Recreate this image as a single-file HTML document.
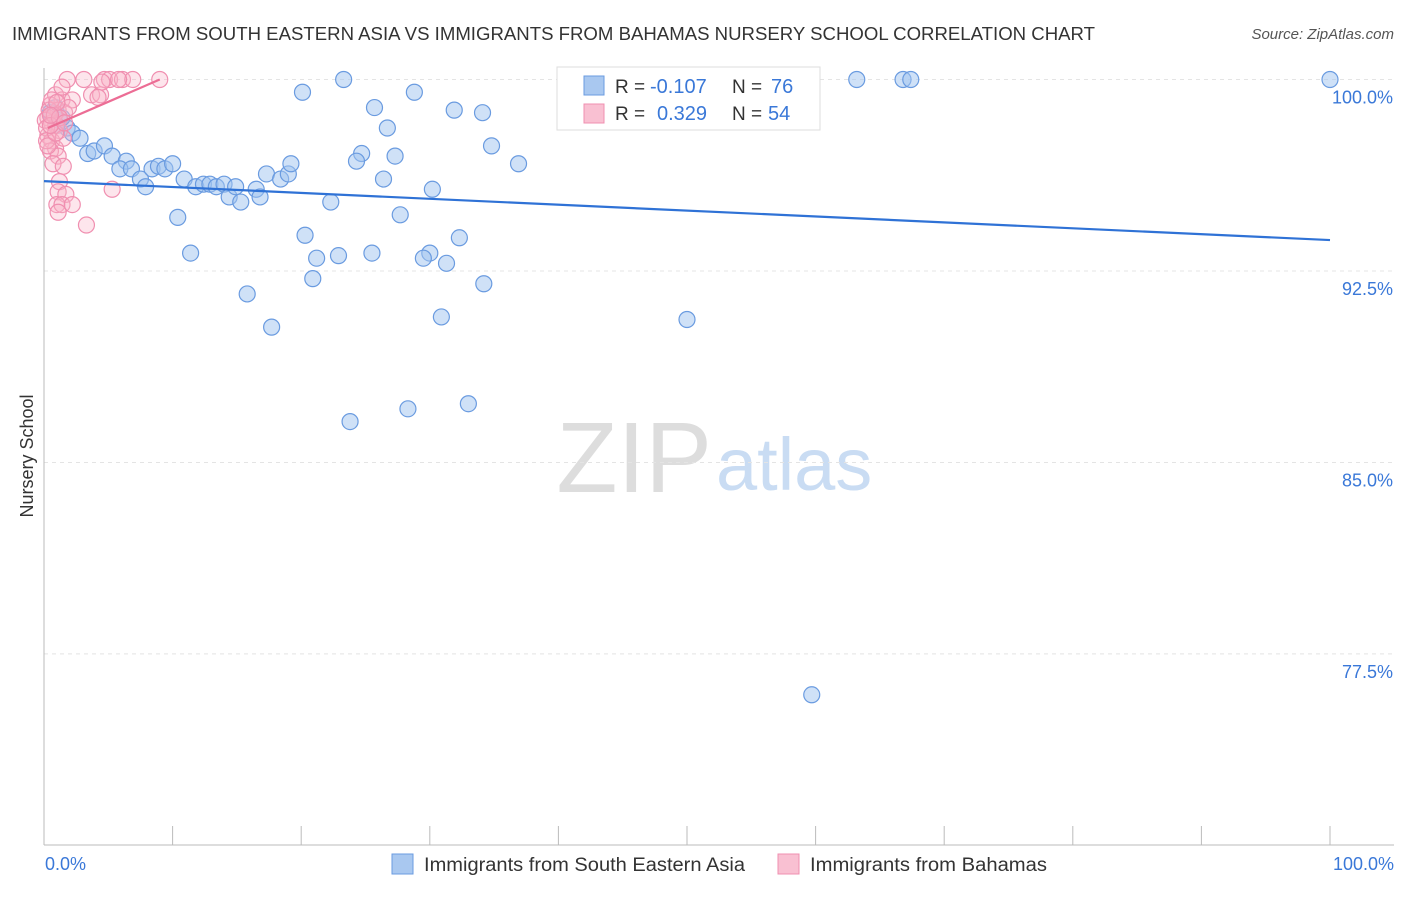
<!DOCTYPE html>
<html><head><meta charset="utf-8"><style>
body{margin:0;background:#fff;font-family:"Liberation Sans",sans-serif}
svg text{font-family:"Liberation Sans",sans-serif}
</style></head><body>
<svg id="c" width="1406" height="892" viewBox="0 0 1406 892">
<text x="12" y="40" font-size="18" fill="#333" textLength="1083" lengthAdjust="spacingAndGlyphs">IMMIGRANTS FROM SOUTH EASTERN ASIA VS IMMIGRANTS FROM BAHAMAS NURSERY SCHOOL CORRELATION CHART</text>
<text x="1394" y="39" font-size="15" fill="#555" text-anchor="end" font-style="italic">Source: ZipAtlas.com</text>
<text x="712" y="492" font-size="100" fill="#ddd" text-anchor="end" font-family="Liberation Serif">ZIP</text>
<text x="716" y="490" font-size="74" fill="#c9dcf3">atlas</text>
<text transform="translate(33,456) rotate(-90)" font-size="18" fill="#333" text-anchor="middle">Nursery School</text>
<g id="grid"></g><g id="marks"></g>
<g>
<rect x="557" y="67" width="263" height="63" fill="#fff" stroke="#ddd"/>
<rect x="584" y="76" width="20" height="19" fill="#a9c8f0" stroke="#6a9be0"/>
<rect x="584" y="104" width="20" height="19" fill="#f9c0d2" stroke="#f08fb0"/>
<text x="615" y="93" font-size="19" fill="#333">R =</text>
<text x="650" y="93" font-size="20" fill="#3a78d8">-0.107</text>
<text x="732" y="93" font-size="19" fill="#333">N =</text>
<text x="771" y="93" font-size="20" fill="#3a78d8">76</text>
<text x="615" y="120" font-size="19" fill="#333">R =</text>
<text x="657" y="120" font-size="20" fill="#3a78d8">0.329</text>
<text x="732" y="120" font-size="19" fill="#333">N =</text>
<text x="768" y="120" font-size="20" fill="#3a78d8">54</text>
</g>
<g>
<rect x="392" y="854" width="21" height="20" fill="#a9c8f0" stroke="#6a9be0"/>
<text x="424" y="871" font-size="19" fill="#333" textLength="321" lengthAdjust="spacingAndGlyphs">Immigrants from South Eastern Asia</text>
<rect x="778" y="854" width="21" height="20" fill="#f9c0d2" stroke="#f08fb0"/>
<text x="810" y="871" font-size="19" fill="#333" textLength="237" lengthAdjust="spacingAndGlyphs">Immigrants from Bahamas</text>
</g>
<text x="45" y="870" font-size="18" fill="#3a78d8">0.0%</text>
<text x="1394" y="870" font-size="18" fill="#3a78d8" text-anchor="end">100.0%</text>
</svg>
<script>
const blueX=[23.3,20.1,25.7,28.8,31.9,34.1,26.7,34.8,36.9,27.3,24.7,24.3,26.4,30.2,22.3,27.7,20.3,32.3,30.0,25.5,22.9,21.2,29.5,31.3,20.9,34.2,15.8,17.7,30.9,50.0,28.3,33.0,23.8,59.7,63.2,66.8,67.4,100,43.0,0.9,1.2,1.8,2.2,2.8,3.4,3.9,4.7,5.3,6.4,5.9,6.8,7.5,7.9,8.4,8.9,9.4,10.0,10.9,11.8,12.4,12.9,13.4,14.0,14.4,14.9,15.3,16.5,16.8,17.3,18.4,19.0,19.2,10.4,11.4,1.4,0.5,1.0];
const blueY=[100,99.5,98.9,99.5,98.8,98.7,98.1,97.4,96.7,97.0,97.1,96.8,96.1,95.7,95.2,94.7,93.9,93.8,93.2,93.2,93.1,93.0,93.0,92.8,92.2,92.0,91.6,90.3,90.7,90.6,87.1,87.3,86.6,75.9,100,100,100,100,100,98.9,98.4,98.1,97.9,97.7,97.1,97.2,97.4,97.0,96.8,96.5,96.5,96.1,95.8,96.5,96.6,96.5,96.7,96.1,95.8,95.9,95.9,95.8,95.9,95.4,95.8,95.2,95.7,95.4,96.3,96.1,96.3,96.7,94.6,93.2,98.5,98.7,98.2];
const pinkX=[1.8,3.1,4.7,5.1,6.1,6.9,9.0,0.9,1.4,2.2,3.7,4.4,0.5,1.1,1.6,0.3,0.6,0.9,1.2,0.3,0.6,0.9,0.5,1.1,0.7,1.5,1.2,1.1,1.7,1.0,1.4,2.2,1.1,3.3,5.3,0.1,0.2,0.4,0.8,0.2,1.5,1.9,4.2,5.8,4.5,0.6,1.4,0.3,0.9,0.5,1.2,1.0,1.6,0.5];
const pinkY=[100,100,100,100,100,100,100,99.4,99.2,99.2,99.4,99.4,99.0,98.8,98.7,98.5,98.3,98.2,98.0,97.8,97.6,97.3,97.2,97.0,96.7,96.6,96.0,95.6,95.5,95.1,95.1,95.1,94.8,94.3,95.7,98.4,98.1,98.8,98.6,97.6,97.7,98.9,99.3,100,99.9,99.2,99.7,97.4,97.9,98.2,98.5,99.1,98.3,98.6];
const blueTrend=[[0,96.02],[100,93.71]];
const pinkTrend=[[0.3,98.1],[9.0,100]];
const yTicks=[100,92.5,85,77.5];
const yTickLabels=["100.0%","92.5%","85.0%","77.5%"];
const xTicks=[0,10,20,30,40,50,60,70,80,90,100];
const sx=v=>44+v*12.86, sy=v=>79.5+(100-v)*25.53;
const NS="http://www.w3.org/2000/svg";
const grid=document.getElementById('grid'), marks=document.getElementById('marks');
function mk(p,tag,at){const e=document.createElementNS(NS,tag);for(const k in at)e.setAttribute(k,at[k]);p.appendChild(e);return e;}
yTicks.forEach((t,i)=>{
 const l=mk(grid,'line',{x1:44,x2:1394,y1:sy(t),y2:sy(t),stroke:'#e4e4e4','stroke-dasharray':'4,4'});
 
 
 const tx=mk(grid,'text',{x:1393,y:sy(t)+24,'font-size':18,fill:'#3a78d8','text-anchor':'end'});
 tx.textContent=yTickLabels[i];
 
 
});
const ax=mk(grid,'line',{x1:44,x2:44,y1:68,y2:845,stroke:'#bbb'});


const bx=mk(grid,'line',{x1:44,x2:1394,y1:845,y2:845,stroke:'#bbb'});


xTicks.forEach(t=>{
 const l=mk(grid,'line',{x1:sx(t),x2:sx(t),y1:826,y2:845,stroke:'#bbb'});
 
 
});
blueX.forEach((x,i)=>{
 const c=mk(marks,'circle',{cx:sx(x),cy:sy(blueY[i]),r:8,fill:'rgba(160,195,240,0.5)',stroke:'#6a9be0','stroke-width':1.2});
 
 
});
pinkX.forEach((x,i)=>{
 const c=mk(marks,'circle',{cx:sx(x),cy:sy(pinkY[i]),r:8,fill:'rgba(250,180,200,0.35)',stroke:'#f08fb0','stroke-width':1.2});
 
 
});
const bl=mk(marks,'line',{x1:sx(blueTrend[0][0]),y1:sy(blueTrend[0][1]),x2:sx(blueTrend[1][0]),y2:sy(blueTrend[1][1]),stroke:'#2f72d6','stroke-width':2.2});


const pl=mk(marks,'line',{x1:sx(pinkTrend[0][0]),y1:sy(pinkTrend[0][1]),x2:sx(pinkTrend[1][0]),y2:sy(pinkTrend[1][1]),stroke:'#ec6d95','stroke-width':2.2});


</script>
</body></html>
